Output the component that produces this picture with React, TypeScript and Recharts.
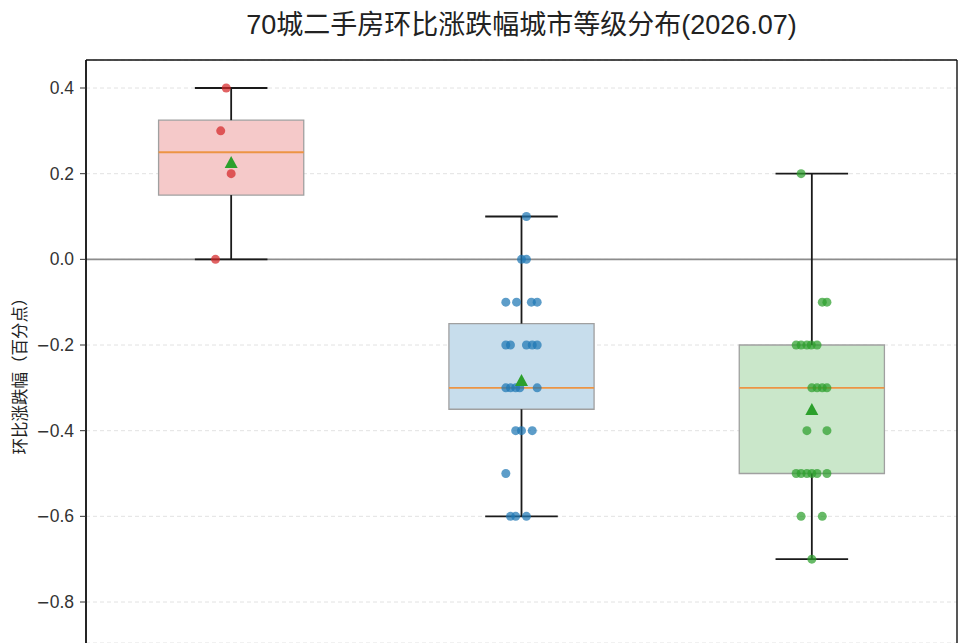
import React from 'react';
import {
  ComposedChart,
  Scatter,
  XAxis,
  YAxis,
  CartesianGrid,
  ReferenceArea,
  ReferenceLine,
} from 'recharts';

// ---- data ----
const categories = ['一线城市', '二线城市', '三线城市'];
const boxMin = [0.0, -0.6, -0.7];
const boxQ1 = [0.15, -0.35, -0.5];
const boxMedian = [0.25, -0.3, -0.3];
const boxQ3 = [0.325, -0.15, -0.2];
const boxMax = [0.4, 0.1, 0.2];
const boxMean = [0.225, -0.284, -0.352];

const tier1Values = [0.4, 0.3, 0.2, 0.0];
const tier1Jitter = [-0.017, -0.036, 0.0, -0.054];

const tier2Values = [
  0.1, 0.0, 0.0,
  -0.1, -0.1, -0.1, -0.1,
  -0.2, -0.2, -0.2, -0.2, -0.2,
  -0.3, -0.3, -0.3, -0.3, -0.3,
  -0.4, -0.4, -0.4,
  -0.5,
  -0.6, -0.6, -0.6,
];
const tier2Jitter = [
  0.017, 0.0, 0.017,
  -0.054, -0.017, 0.034, 0.054,
  -0.054, -0.038, 0.017, 0.037, 0.054,
  -0.054, -0.038, -0.02, -0.006, 0.054,
  -0.02, 0.0, 0.037,
  -0.054,
  -0.038, -0.02, 0.017,
];

const tier3Values = [
  0.2,
  -0.1, -0.1,
  -0.2, -0.2, -0.2, -0.2, -0.2,
  -0.3, -0.3, -0.3, -0.3,
  -0.4, -0.4,
  -0.5, -0.5, -0.5, -0.5, -0.5, -0.5,
  -0.6, -0.6,
  -0.7,
];
const tier3Jitter = [
  -0.037,
  0.036, 0.052,
  -0.054, -0.037, -0.017, -0.002, 0.018,
  0.0, 0.018, 0.036, 0.052,
  -0.017, 0.052,
  -0.054, -0.037, -0.017, 0.0, 0.018, 0.052,
  -0.037, 0.036,
  0.0,
];

const yTicks = [0.4, 0.2, 0.0, -0.2, -0.4, -0.6, -0.8];
const yDomain: [number, number] = [-0.8957, 0.4654];

const titleText = '70城二手房环比涨跌幅城市等级分布(2026.07)';
const yLabelText = '环比涨跌幅（百分点）';

const pointColors = ['#d62728', '#1f77b4', '#2ca02c'];
const boxFills = ['#f5c9c9', '#c7ddec', '#cae7ca'];

const tierPoints = [
  tier1Values.map((v, k) => ({ x: 0 + tier1Jitter[k], y: v })),
  tier2Values.map((v, k) => ({ x: 1 + tier2Jitter[k], y: v })),
  tier3Values.map((v, k) => ({ x: 2 + tier3Jitter[k], y: v })),
];
const meanPoints = boxMean.map((m, i) => ({ x: i, y: m }));

const FONT = '"Liberation Sans", "Noto Sans CJK SC", sans-serif';

const fmt = (v: number) => {
  const s = Math.abs(v) < 1e-9 ? '0.0' : v.toFixed(1);
  return s.replace('-', '\u2212');
};

const makeDot = (color: string) => (props: any) => {
  const { cx, cy } = props;
  if (cx == null || cy == null) return <g />;
  return <circle cx={cx} cy={cy} r={4.5} fill={color} fillOpacity={0.72} />;
};

const Triangle = (props: any) => {
  const { cx, cy } = props;
  if (cx == null || cy == null) return <g />;
  const pts = `${cx},${cy - 7} ${cx - 6.5},${cy + 5} ${cx + 6.5},${cy + 5}`;
  return <polygon points={pts} fill="#2ca02c" />;
};

const YTick = (props: any) => {
  const { x, y, payload } = props;
  const label = fmt(payload.value);
  const neg = label.startsWith('\u2212');
  return (
    <text
      x={x}
      y={y}
      textAnchor="end"
      dominantBaseline="central"
      fill="#333"
      fontSize={17.5}
      fontFamily={FONT}
    >
      {neg ? <tspan fontFamily='"DejaVu Sans", sans-serif' fontSize={16}>{'\u2212'}</tspan> : null}
      {neg ? label.slice(1) : label}
    </text>
  );
};

export default function App() {
  return (
    <div style={{ position: 'absolute', left: 0, top: 0, width: 960, height: 643, background: '#fff', overflow: 'hidden' }}>
      <div
        style={{
          position: 'absolute',
          left: 86,
          width: 871,
          top: 3,
          textAlign: 'center',
          fontFamily: FONT,
          fontSize: 27,
          color: '#222',
          whiteSpace: 'nowrap',
        }}
      >
        {titleText}
      </div>
      <div
        style={{
          position: 'absolute',
          left: 19,
          top: 372,
          transform: 'translate(-50%, -50%) rotate(-90deg)',
          fontFamily: FONT,
          fontSize: 16.5,
          color: '#222',
          whiteSpace: 'nowrap',
        }}
      >
        {yLabelText}
      </div>
      <ComposedChart
        width={960}
        height={643}
        margin={{ top: 60, right: 3, bottom: 0, left: 0 }}
        style={{ position: 'absolute', left: 0, top: 0 }}
      >
        <CartesianGrid horizontal vertical={false} stroke="#e2e2e2" strokeDasharray="4 3" />
        <XAxis type="number" dataKey="x" domain={[-0.5, 2.5]} hide allowDataOverflow />
        <YAxis
          type="number"
          dataKey="y"
          domain={yDomain}
          ticks={yTicks}
          allowDataOverflow
          width={86}
          tick={<YTick />}
          tickSize={6}
          tickMargin={6}
          tickLine={{ stroke: '#333' }}
          axisLine={{ stroke: '#111', strokeWidth: 1.4 }}
          interval={0}
        />
        <ReferenceLine y={0} stroke="#8c8c8c" strokeWidth={1.6} />
        {categories.map((c, i) => (
          <ReferenceArea
            key={'box' + c}
            x1={i - 0.25}
            x2={i + 0.25}
            y1={boxQ1[i]}
            y2={boxQ3[i]}
            fill={boxFills[i]}
            fillOpacity={1}
            stroke="#a0a0a0"
            strokeWidth={1.3}
          />
        ))}
        {categories.map((c, i) => (
          <ReferenceLine
            key={'wu' + c}
            segment={[{ x: i, y: boxQ3[i] }, { x: i, y: boxMax[i] }]}
            stroke="#1a1a1a"
            strokeWidth={1.8}
          />
        ))}
        {categories.map((c, i) => (
          <ReferenceLine
            key={'wl' + c}
            segment={[{ x: i, y: boxMin[i] }, { x: i, y: boxQ1[i] }]}
            stroke="#1a1a1a"
            strokeWidth={1.8}
          />
        ))}
        {categories.map((c, i) => (
          <ReferenceLine
            key={'cu' + c}
            segment={[{ x: i - 0.125, y: boxMax[i] }, { x: i + 0.125, y: boxMax[i] }]}
            stroke="#1a1a1a"
            strokeWidth={1.8}
          />
        ))}
        {categories.map((c, i) => (
          <ReferenceLine
            key={'cl' + c}
            segment={[{ x: i - 0.125, y: boxMin[i] }, { x: i + 0.125, y: boxMin[i] }]}
            stroke="#1a1a1a"
            strokeWidth={1.8}
          />
        ))}
        {categories.map((c, i) => (
          <ReferenceLine
            key={'md' + c}
            segment={[{ x: i - 0.25, y: boxMedian[i] }, { x: i + 0.25, y: boxMedian[i] }]}
            stroke="#ec9444"
            strokeWidth={1.8}
          />
        ))}
        <ReferenceLine x={-0.5} stroke="#111" strokeWidth={1.4} />
        <ReferenceLine x={2.5} stroke="#111" strokeWidth={1.4} />
        <ReferenceLine y={yDomain[1]} stroke="#111" strokeWidth={1.4} />
        {tierPoints.map((pts, i) => (
          <Scatter
            key={'pts' + i}
            name={categories[i]}
            data={pts}
            isAnimationActive={false}
            shape={makeDot(pointColors[i])}
          />
        ))}
        <Scatter name="均值" data={meanPoints} isAnimationActive={false} shape={Triangle} />
      </ComposedChart>
    </div>
  );
}
